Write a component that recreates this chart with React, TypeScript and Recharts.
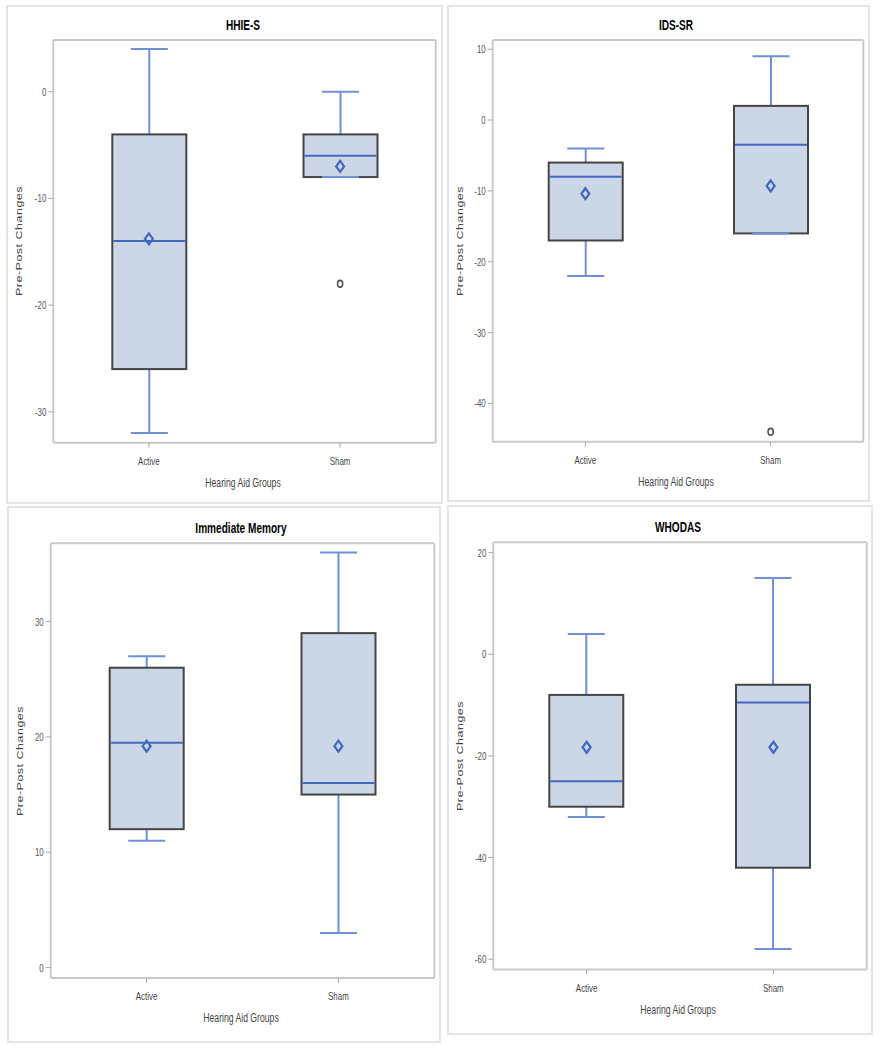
import { ComposedChart, Bar, Scatter, XAxis, YAxis } from 'recharts';

const groups = ['Active', 'Sham'];

// HHIE-S
const hhieMin = [-32, -8];
const hhieQ1 = [-26, -8];
const hhieMedian = [-14, -6];
const hhieQ3 = [-4, -4];
const hhieMax = [4, 0];
const hhieMean = [-13.8, -7];
const hhieOutlier = [null, -18];
const hhieTicks = [-30, -20, -10, 0];

// IDS-SR
const idsMin = [-22, -16];
const idsQ1 = [-17, -16];
const idsMedian = [-8, -3.5];
const idsQ3 = [-6, 2];
const idsMax = [-4, 9];
const idsMean = [-10.4, -9.3];
const idsOutlier = [null, -44];
const idsTicks = [-40, -30, -20, -10, 0, 10];

// Immediate Memory
const memMin = [11, 3];
const memQ1 = [12, 15];
const memMedian = [19.5, 16];
const memQ3 = [26, 29];
const memMax = [27, 36];
const memMean = [19.2, 19.2];
const memOutlier = [null, null];
const memTicks = [0, 10, 20, 30];

// WHODAS
const whoMin = [-32, -58];
const whoQ1 = [-30, -42];
const whoMedian = [-25, -9.5];
const whoQ3 = [-8, -6];
const whoMax = [4, 15];
const whoMean = [-18.3, -18.3];
const whoOutlier = [null, null];
const whoTicks = [-60, -40, -20, 0, 20];

const FONT = '"Liberation Sans", Arial, sans-serif';
const SQ = 0.72; // the picture is squeezed sideways

const BOX_FILL = '#cbd6e7';
const BOX_STROKE = '#444444';
const WHISKER = '#6f8fd6';
const MEDIAN = '#4467c2';
const FRAME = '#c9c9c9';

const Y_W = 40;
const X_H = 20;

const buildRows = (mn, q1, md, q3, mx, mean, out) =>
  groups.map((g, i) => ({
    group: g,
    range: [mn[i], mx[i]],
    min: mn[i],
    q1: q1[i],
    median: md[i],
    q3: q3[i],
    max: mx[i],
    mean: mean[i],
    outlier: out[i],
  }));

const BoxShape = (props: any) => {
  const { x, y, width, height, payload } = props;
  const top = Math.min(y, y + height);
  const bot = Math.max(y, y + height);
  const { min, max, q1, q3, median } = payload;
  const py = (v: number) => top + ((max - v) / (max - min)) * (bot - top);
  const cx = x + width / 2;
  const cap = width / 4;
  return (
    <g>
      <line x1={cx} x2={cx} y1={py(max)} y2={py(min)} stroke={WHISKER} strokeWidth={2} />
      <rect x={x} y={py(q3)} width={width} height={py(q1) - py(q3)} fill={BOX_FILL} stroke={BOX_STROKE} strokeWidth={2} />
      <line x1={x + 1} x2={x + width - 1} y1={py(median)} y2={py(median)} stroke={MEDIAN} strokeWidth={2} />
      <line x1={cx - cap} x2={cx + cap} y1={py(max)} y2={py(max)} stroke={WHISKER} strokeWidth={2} />
      <line x1={cx - cap} x2={cx + cap} y1={py(min)} y2={py(min)} stroke={WHISKER} strokeWidth={2} />
    </g>
  );
};

const MeanShape = (props: any) => {
  const { cx, cy } = props;
  if (cx == null || cy == null || isNaN(cy)) return <g />;
  return (
    <polygon
      points={`${cx},${cy - 5.5} ${cx + 4},${cy} ${cx},${cy + 5.5} ${cx - 4},${cy}`}
      fill="none"
      stroke={MEDIAN}
      strokeWidth={2.2}
    />
  );
};

const OutlierShape = (props: any) => {
  const { cx, cy, payload } = props;
  if (payload == null || payload.outlier == null || isNaN(cy)) return <g />;
  return <ellipse cx={cx} cy={cy} rx={2.6} ry={3.4} fill="none" stroke="#555" strokeWidth={1.6} />;
};

const YTick = (props: any) => {
  const { x, y, payload } = props;
  return (
    <text
      transform={`translate(${x},${y}) scale(${SQ},1)`}
      textAnchor="end"
      dy={4}
      fontSize={11}
      fontFamily={FONT}
      fill="#555"
    >
      {payload.value}
    </text>
  );
};

const XTick = (props: any) => {
  const { x, y, payload } = props;
  return (
    <text
      transform={`translate(${x},${y}) scale(${SQ},1)`}
      textAnchor="middle"
      dy={13}
      fontSize={11}
      fontFamily={FONT}
      fill="#444"
    >
      {payload.value}
    </text>
  );
};

const Txt = ({ x, y, text, size, bold, color, rotate }: any) => (
  <div
    style={{
      position: 'absolute',
      left: x,
      top: y,
      whiteSpace: 'nowrap',
      fontFamily: FONT,
      fontSize: size,
      fontWeight: bold ? 'bold' : 'normal',
      color,
      lineHeight: 1,
      letterSpacing: rotate ? 0.5 : 0,
      transform: rotate
        ? `translate(-50%,-50%) rotate(-90deg) scale(1,${SQ})`
        : `translate(-50%,-50%) scale(${SQ},1)`,
    }}
  >
    {text}
  </div>
);

const panels = [
  {
    title: 'HHIE-S',
    rows: buildRows(hhieMin, hhieQ1, hhieMedian, hhieQ3, hhieMax, hhieMean, hhieOutlier),
    ticks: hhieTicks,
    domain: [-32.9, 4.85],
    box: [6, 5, 443, 504],
    frame: [53.3, 40, 435.7, 442.7],
  },
  {
    title: 'IDS-SR',
    rows: buildRows(idsMin, idsQ1, idsMedian, idsQ3, idsMax, idsMean, idsOutlier),
    ticks: idsTicks,
    domain: [-45.4, 11.3],
    box: [447, 5, 870, 502],
    frame: [492.7, 40, 863.3, 441.7],
  },
  {
    title: 'Immediate Memory',
    rows: buildRows(memMin, memQ1, memMedian, memQ3, memMax, memMean, memOutlier),
    ticks: memTicks,
    domain: [-0.9, 36.8],
    box: [7, 506, 441, 1043],
    frame: [50.7, 543.2, 434.3, 977.9],
  },
  {
    title: 'WHODAS',
    rows: buildRows(whoMin, whoQ1, whoMedian, whoQ3, whoMax, whoMean, whoOutlier),
    ticks: whoTicks,
    domain: [-62.05, 22.05],
    box: [447, 505, 873, 1035],
    frame: [493.3, 542.2, 866.7, 969.6],
  },
];

const Panel = ({ p }: any) => {
  const [L, T, R, B] = p.box;
  const [fl, ft, fr, fb] = p.frame;
  const w = R - L;
  const h = B - T;
  const midX = (fl + fr) / 2;
  const midY = (ft + fb) / 2;
  return (
    <>
      <div
        style={{
          position: 'absolute',
          left: L,
          top: T,
          width: w,
          height: h,
          border: '2px solid #e4e4e4',
          boxSizing: 'border-box',
        }}
      />
      <div style={{ position: 'absolute', left: L, top: T }}>
        <ComposedChart
          width={w}
          height={h}
          data={p.rows}
          margin={{ left: fl - L - Y_W, top: ft - T - 1, right: R - fr - 1, bottom: B - fb - X_H }}
        >
          <XAxis
            dataKey="group"
            height={X_H}
            tick={<XTick />}
            tickSize={5}
            tickMargin={4}
            axisLine={{ stroke: FRAME, strokeWidth: 2 }}
            tickLine={{ stroke: '#aaa' }}
          />
          <XAxis
            xAxisId="top"
            orientation="top"
            dataKey="group"
            height={1}
            tick={false}
            tickLine={false}
            axisLine={{ stroke: FRAME, strokeWidth: 2 }}
          />
          <YAxis
            type="number"
            width={Y_W}
            domain={p.domain}
            ticks={p.ticks}
            allowDataOverflow
            tick={<YTick />}
            tickSize={5}
            tickMargin={2}
            axisLine={{ stroke: FRAME, strokeWidth: 2 }}
            tickLine={{ stroke: '#aaa' }}
          />
          <YAxis
            yAxisId="right"
            orientation="right"
            type="number"
            width={1}
            domain={p.domain}
            allowDataOverflow
            tick={false}
            tickLine={false}
            axisLine={{ stroke: FRAME, strokeWidth: 2 }}
          />
          <Bar dataKey="range" barSize={74} shape={<BoxShape />} isAnimationActive={false} />
          <Scatter dataKey="mean" shape={<MeanShape />} isAnimationActive={false} />
          <Scatter dataKey="outlier" shape={<OutlierShape />} isAnimationActive={false} />
        </ComposedChart>
      </div>
      <Txt x={midX - 2} y={ft - 15} text={p.title} size={14} bold color="#000" />
      <Txt x={midX - 2} y={fb + 40} text="Hearing Aid Groups" size={12} color="#444" />
      <Txt x={L + 13} y={midY} text="Pre-Post Changes" size={12.5} color="#444" rotate />
    </>
  );
};

export default function App() {
  return (
    <div style={{ position: 'absolute', left: 0, top: 0, width: 880, height: 1050, background: '#fff' }}>
      {panels.map((p) => (
        <Panel key={p.title} p={p} />
      ))}
    </div>
  );
}
